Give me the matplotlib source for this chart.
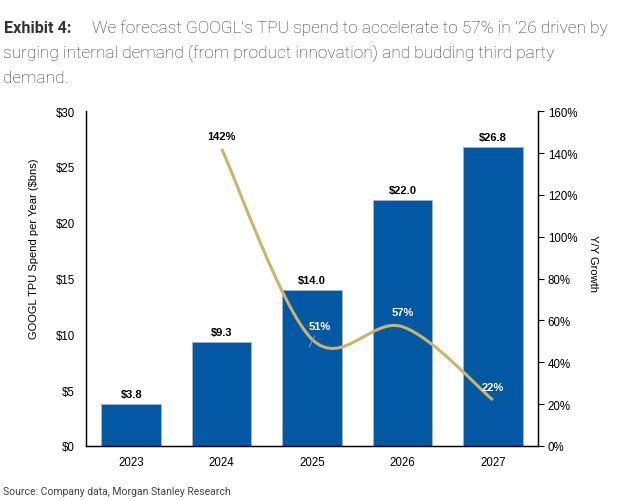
import matplotlib
matplotlib.use("Agg")
import matplotlib.pyplot as plt
from matplotlib.path import Path
from matplotlib.patches import PathPatch
from matplotlib.ticker import FuncFormatter

years = ["2023", "2024", "2025", "2026", "2027"]
spend = [3.8, 9.3, 14.0, 22.0, 26.8]
growth_years = [1, 2, 3, 4]          # index into years
growth = [142, 51, 57, 22]
growth_labels = ["142%", "51%", "57%", "22%"]

bar_col = "#0358A4"
line_col = "#CBB46C"
txt_col = "#333333"

fig = plt.figure(figsize=(6.17, 5.02), dpi=100)
ax = fig.add_axes([0.1394, 0.1096, 0.7326, 0.667])
ax2 = ax.twinx()

x = list(range(len(years)))
ax.bar(x, spend, width=0.66, color=bar_col, edgecolor="#9DB3CF", linewidth=0.7, zorder=2)
for xi, v in zip(x, spend):
    ax.text(xi, v + 0.45, f"${v:.1f}", ha="center", va="bottom", fontsize=8,
            fontweight="bold", family="Liberation Sans", color="black")

ax.set_xlim(-0.5, 4.5)
ax.set_ylim(0, 30)
ax.set_yticks(range(0, 31, 5))
ax.yaxis.set_major_formatter(FuncFormatter(lambda v, p: f"${v:.0f}"))
ax.set_xticks(x)
ax.set_xticklabels(years)
ax.tick_params(axis="y", length=0, pad=8)
ax.tick_params(axis="x", length=0, pad=7)

ax2.set_ylim(0, 160)
ax2.set_yticks(range(0, 161, 20))
ax2.yaxis.set_major_formatter(FuncFormatter(lambda v, p: f"{v:.0f}%"))
ax2.tick_params(axis="y", length=4, width=0.8, pad=3)

for a in (ax, ax2):
    a.spines["top"].set_visible(False)
    for s in ("left", "right", "bottom"):
        a.spines[s].set_linewidth(0.9)
        a.spines[s].set_color("black")
    for lab in a.get_xticklabels() + a.get_yticklabels():
        lab.set_family("Liberation Sans")
        lab.set_fontsize(8.3)
        lab.set_color("black")

# smoothed growth line (Catmull-Rom style bezier, like Excel smoothing)
gx = [x[i] for i in growth_years]
pts = list(zip(gx, growth))
verts = [pts[0]]
codes = [Path.MOVETO]
for i in range(len(pts) - 1):
    p0 = pts[i - 1] if i > 0 else pts[i]
    p1 = pts[i]
    p2 = pts[i + 1]
    p3 = pts[i + 2] if i + 2 < len(pts) else pts[i + 1]
    c1 = (p1[0] + (p2[0] - p0[0]) / 6, p1[1] + (p2[1] - p0[1]) / 6)
    c2 = (p2[0] - (p3[0] - p1[0]) / 6, p2[1] - (p3[1] - p1[1]) / 6)
    verts += [c1, c2, p2]
    codes += [Path.CURVE4] * 3
ax2.add_patch(PathPatch(Path(verts, codes), facecolor="none", edgecolor=line_col,
                        linewidth=2.2, capstyle="butt", zorder=3))

lab_pos = [(1.0, 148), (2.09, 57.3), (3.0, 64), (4.0, 28.2)]
lab_col = ["black", "white", "white", "white"]
for (lx, ly), t, c in zip(lab_pos, growth_labels, lab_col):
    ax2.text(lx, ly, t, ha="center", va="center", fontsize=8, fontweight="bold",
             family="Liberation Sans", color=c, zorder=4)
# leader for 51%
ax2.plot([2.03, 1.97], [52.5, 47.5], color="#8a9bb5", linewidth=0.8, zorder=4)

fig.text(0.055, 0.505, "GOOGL TPU Spend per Year ($bns)", rotation=90, ha="center",
         va="center", fontsize=8, family="Liberation Sans", color="black")
fig.text(0.961, 0.476, "Y/Y Growth", rotation=-90, ha="center", va="center",
         fontsize=8, family="Liberation Sans", color="black")

fig.text(0.006, 0.943, "Exhibit 4:", fontsize=11.6, fontweight="bold", family="Roboto",
         color=txt_col, va="center")
fig.text(0.149, 0.943, "We forecast GOOGL's TPU spend to accelerate to 57% in '26 driven by",
         fontsize=12.45, fontweight="light", family="Roboto", color=txt_col, va="center")
fig.text(0.005, 0.893, "surging internal demand (from product innovation) and budding third party",
         fontsize=12.45, fontweight="light", family="Roboto", color=txt_col, va="center")
fig.text(0.005, 0.843, "demand.", fontsize=12.45, fontweight="light", family="Roboto",
         color=txt_col, va="center")
fig.text(0.005, 0.02, "Source: Company data, Morgan Stanley Research", fontsize=7.5,
         family="Roboto", color="#444444", va="center")

fig.savefig("out.png", dpi=100)
